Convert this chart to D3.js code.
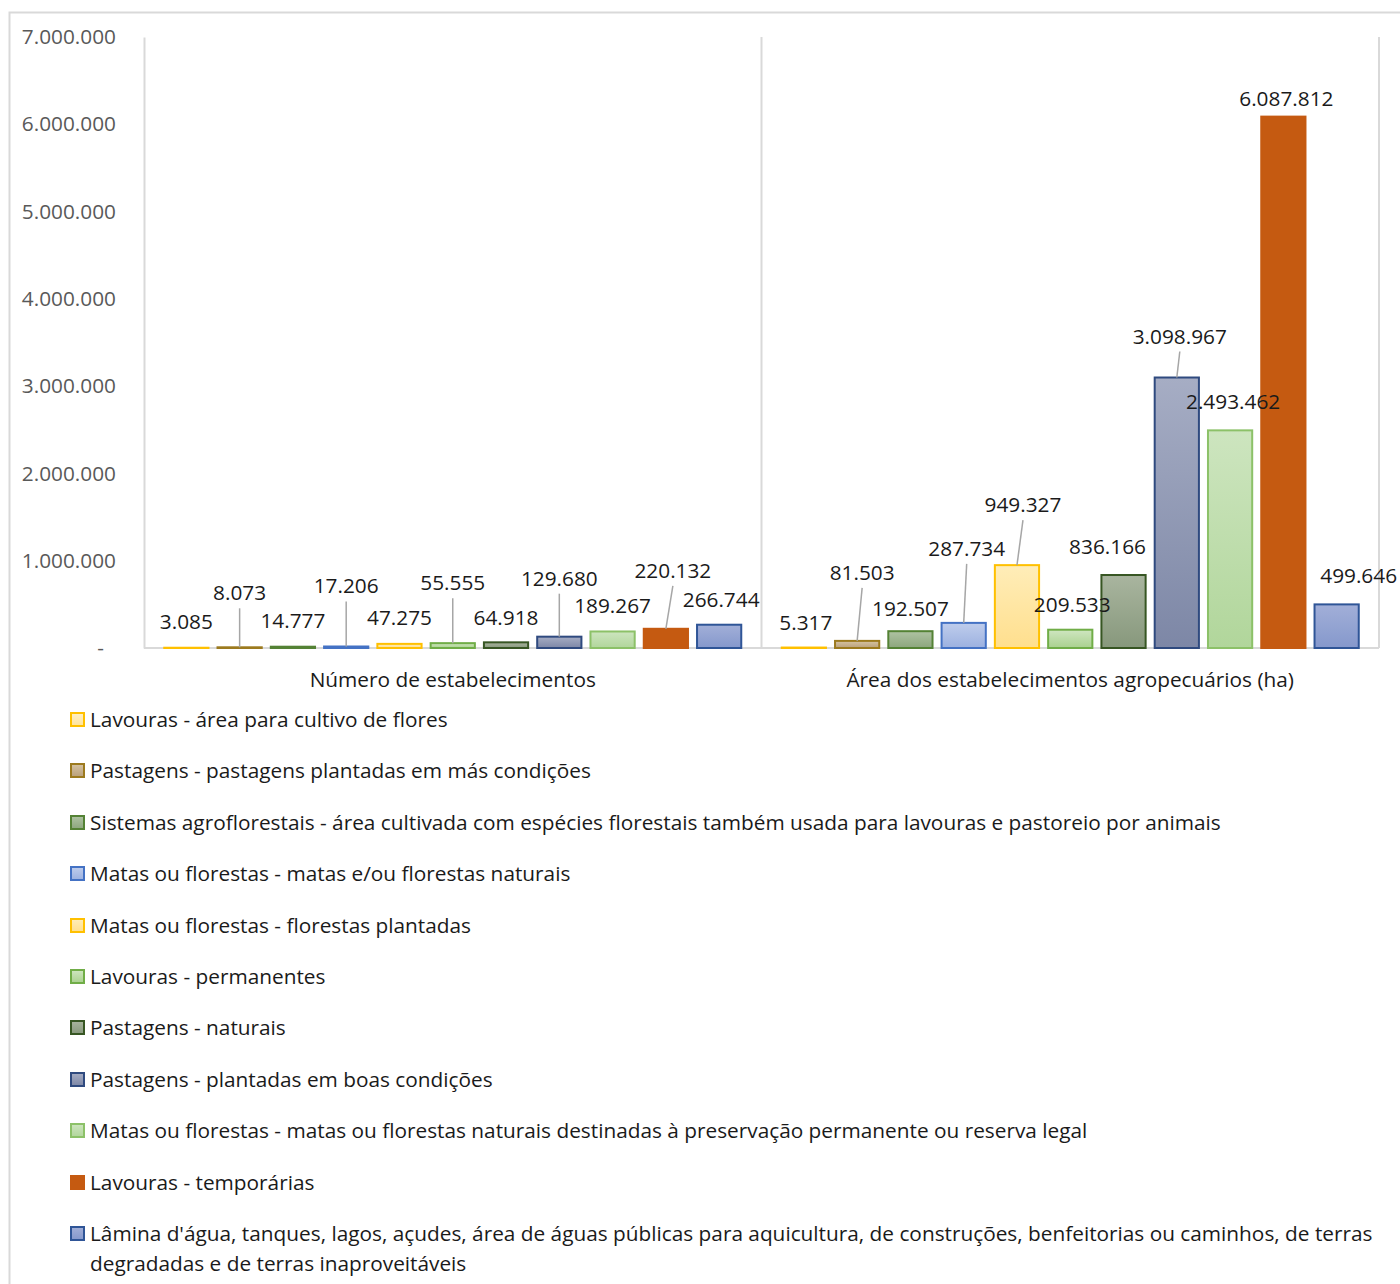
<!DOCTYPE html>
<html>
<head>
<meta charset="utf-8">
<script src="https://cdn.jsdelivr.net/npm/d3@7"></script>
<style>
  body { margin: 0; background: #fff; }
  text { font-family: "Open Sans", Lato, sans-serif; }
</style>
</head>
<body>
<div id="chart"></div>
<script>
const groups = ["Número de estabelecimentos", "Área dos estabelecimentos agropecuários (ha)"];

const seriesNames = [
  "Lavouras - área para cultivo de flores",
  "Pastagens - pastagens plantadas em más condições",
  "Sistemas agroflorestais - área cultivada com espécies florestais também usada para lavouras e pastoreio por animais",
  "Matas ou florestas - matas e/ou florestas naturais",
  "Matas ou florestas - florestas plantadas",
  "Lavouras - permanentes",
  "Pastagens - naturais",
  "Pastagens - plantadas em boas condições",
  "Matas ou florestas - matas ou florestas naturais destinadas à preservação permanente ou reserva legal",
  "Lavouras - temporárias",
  "Lâmina d'água, tanques, lagos, açudes, área de águas públicas para aquicultura, de construções, benfeitorias ou caminhos, de terras degradadas e de terras inaproveitáveis"
];

const numeroValues = [3085, 8073, 14777, 17206, 47275, 55555, 64918, 129680, 189267, 220132, 266744];
const areaValues = [5317, 81503, 192507, 287734, 949327, 209533, 836166, 3098967, 2493462, 6087812, 499646];

const yTicks = [0, 1000000, 2000000, 3000000, 4000000, 5000000, 6000000, 7000000];

// series colours: [top fill, bottom fill, stroke]
const seriesColors = [
  ["#FFF0C8", "#FFE49A", "#FFC000"],
  ["#D6C3A2", "#B9A07A", "#9C7A1E"],
  ["#AFC3A3", "#8CA67D", "#548235"],
  ["#BFCDEC", "#9CB1E0", "#4472C4"],
  ["#FFEDB8", "#FFDF8E", "#FFC000"],
  ["#CFE6C1", "#A9D18E", "#70AD47"],
  ["#A9B59F", "#87987C", "#375623"],
  ["#A6ADC4", "#7D87A6", "#2F4A7F"],
  ["#CDE5BF", "#B1D69B", "#8CC168"],
  ["#C55A11", "#C55A11", "#C55A11"],
  ["#A2AFD8", "#8598CC", "#2F5597"]
];

// label layout (pixels above bar top, horizontal nudge) for each group
const labelLift = [
  [26, 54, 26, 60, 26, 60, 24, 58, 25, 58, 25],
  [25, 68, 22, 74, 60, 25, 28, 41, 28, 18, 28]
];
const labelDx = [
  [0, 0, 0, 0, 0, 0, 0, 0, 0, 7, 2],
  [2, 5, 0, 3, 6, 2, -16, 3, 3, 3, 22]
];

const FONT = "20.8px";
const W = 1400, H = 1284;
const svg = d3.select("#chart").append("svg")
  .attr("width", W)
  .attr("height", H);

// outer border
svg.append("rect")
  .attr("x", 9.5).attr("y", 12.5)
  .attr("width", 1420).attr("height", 1300)
  .attr("fill", "#fff")
  .attr("stroke", "#D9D9D9")
  .attr("stroke-width", 2);

const plot = { left: 144, right: 1379, top: 37, bottom: 648 };

const x0 = d3.scaleBand()
  .domain(groups)
  .range([plot.left, plot.right])
  .padding(0);

const x1 = d3.scaleBand()
  .domain(d3.range(seriesNames.length))
  .range([0, x0.bandwidth()])
  .paddingInner(0.17)
  .paddingOuter(0.38);

const y = d3.scaleLinear()
  .domain([0, 7000000])
  .range([plot.bottom, plot.top]);

const loc = d3.formatLocale({ decimal: ",", thousands: ".", grouping: [3], currency: ["", ""] });
const fmt = loc.format(",d");

// gradients
const defs = svg.append("defs");
seriesColors.forEach((c, i) => {
  const g = defs.append("linearGradient")
    .attr("id", "grad" + i)
    .attr("x1", 0).attr("y1", 0).attr("x2", 0).attr("y2", 1);
  g.append("stop").attr("offset", "0%").attr("stop-color", c[0]);
  g.append("stop").attr("offset", "100%").attr("stop-color", c[1]);
});

// Y axis
const yAxis = svg.append("g")
  .attr("transform", `translate(${plot.left},0)`)
  .call(d3.axisLeft(y).tickValues(yTicks).tickSize(0).tickPadding(28)
    .tickFormat(d => d === 0 ? "-" : fmt(d)));
yAxis.select(".domain").attr("stroke", "#D9D9D9").attr("stroke-width", 2);
yAxis.selectAll("text")
  .style("font-size", FONT)
  .style("fill", "#595959");
yAxis.selectAll(".tick").filter(d => d === 0).select("text").attr("dx", -12);

// category separators and baseline
svg.selectAll(".sep")
  .data(groups)
  .join("line")
  .attr("class", "sep")
  .attr("x1", d => x0(d) + x0.bandwidth())
  .attr("x2", d => x0(d) + x0.bandwidth())
  .attr("y1", plot.top)
  .attr("y2", plot.bottom)
  .attr("stroke", "#D9D9D9")
  .attr("stroke-width", 2);

svg.append("line")
  .attr("x1", plot.left).attr("x2", plot.right)
  .attr("y1", plot.bottom).attr("y2", plot.bottom)
  .attr("stroke", "#D9D9D9")
  .attr("stroke-width", 2);

// category labels
svg.selectAll(".cat")
  .data(groups)
  .join("text")
  .attr("class", "cat")
  .attr("x", d => x0(d) + x0.bandwidth() / 2)
  .attr("y", 687)
  .attr("text-anchor", "middle")
  .style("font-size", FONT)
  .style("fill", "#1a1a1a")
  .text(d => d);

// bars
const groupValues = [numeroValues, areaValues];
const gGroups = svg.selectAll(".grp")
  .data(groups)
  .join("g")
  .attr("class", "grp")
  .attr("transform", d => `translate(${x0(d)},0)`);

gGroups.each(function(gName, gi) {
  const g = d3.select(this);
  const vals = groupValues[gi].map((v, i) => ({ i, v }));

  g.selectAll("rect")
    .data(vals)
    .join("rect")
    .attr("x", d => x1(d.i))
    .attr("y", d => y(d.v))
    .attr("width", x1.bandwidth())
    .attr("height", d => y(0) - y(d.v))
    .attr("fill", d => `url(#grad${d.i})`)
    .attr("stroke", d => seriesColors[d.i][2])
    .attr("stroke-width", 2);

  // leader lines
  g.selectAll("line.leader")
    .data(vals.filter(d => labelLift[gi][d.i] > 35))
    .join("line")
    .attr("class", "leader")
    .attr("x1", d => x1(d.i) + x1.bandwidth() / 2 + labelDx[gi][d.i])
    .attr("y1", d => y(d.v) - labelLift[gi][d.i] + 15)
    .attr("x2", d => x1(d.i) + x1.bandwidth() / 2)
    .attr("y2", d => y(d.v))
    .attr("stroke", "#A6A6A6")
    .attr("stroke-width", 1.5);

  g.selectAll("text.lbl")
    .data(vals)
    .join("text")
    .attr("class", "lbl")
    .attr("x", d => x1(d.i) + x1.bandwidth() / 2 + labelDx[gi][d.i])
    .attr("y", d => y(d.v) - labelLift[gi][d.i] + 7)
    .attr("text-anchor", "middle")
    .style("font-size", FONT)
    .style("fill", "#1a1a1a")
    .text(d => fmt(d.v));
});

// legend
const legend = svg.append("g");
const rowY = [720, 771, 823, 874, 926, 977, 1028, 1080, 1131, 1183, 1234];
seriesNames.forEach((name, i) => {
  const row = legend.append("g").attr("transform", `translate(0,${rowY[i]})`);
  row.append("rect")
    .attr("x", 71).attr("y", -7)
    .attr("width", 13).attr("height", 13)
    .attr("fill", `url(#grad${i})`)
    .attr("stroke", seriesColors[i][2])
    .attr("stroke-width", 2);
  const t = row.append("text")
    .attr("x", 90)
    .attr("y", 7)
    .style("font-size", FONT)
    .style("fill", "#1a1a1a");
  // wrap long text
  const words = name.split(" ");
  let line = [];
  let tspan = t.append("tspan").attr("x", 90).attr("dy", 0);
  words.forEach(w => {
    line.push(w);
    tspan.text(line.join(" "));
    if (tspan.node().getComputedTextLength() > 1295 && line.length > 1) {
      line.pop();
      tspan.text(line.join(" "));
      line = [w];
      tspan = t.append("tspan").attr("x", 90).attr("dy", 30).text(w);
    }
  });
});
</script>
</body>
</html>
